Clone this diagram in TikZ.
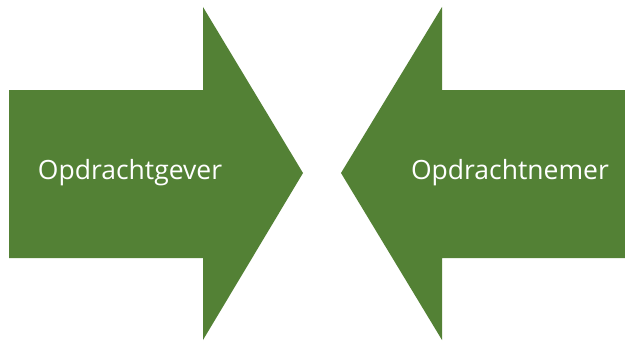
\documentclass[tikz,border=0pt]{standalone}
\usepackage{fontspec}
\setmainfont{Open Sans}
\definecolor{arrowgreen}{RGB}{83,129,53}
\begin{document}
\begin{tikzpicture}[x=1pt,y=1pt,
  arrowshape/.style={fill=arrowgreen,draw=none},
  lbl/.style={text=white,font=\fontsize{26.5}{30}\selectfont,inner sep=0pt}]
\useasboundingbox (0,0) rectangle (625,341);
\fill[white] (0,0) rectangle (625,341);
% left arrow
\path[arrowshape] (9,251) -- (203,251) -- (203,334) -- (303,168) -- (203,1) -- (203,83) -- (9,83) -- cycle;
% right arrow
\path[arrowshape] (625,251) -- (442,251) -- (442,334) -- (341,168) -- (442,1) -- (442,83) -- (625,83) -- cycle;
\node[lbl] (giver) at (130,168) {Opdrachtgever};
\node[lbl] (taker) at (510,168) {Opdrachtnemer};
\end{tikzpicture}
\end{document}
